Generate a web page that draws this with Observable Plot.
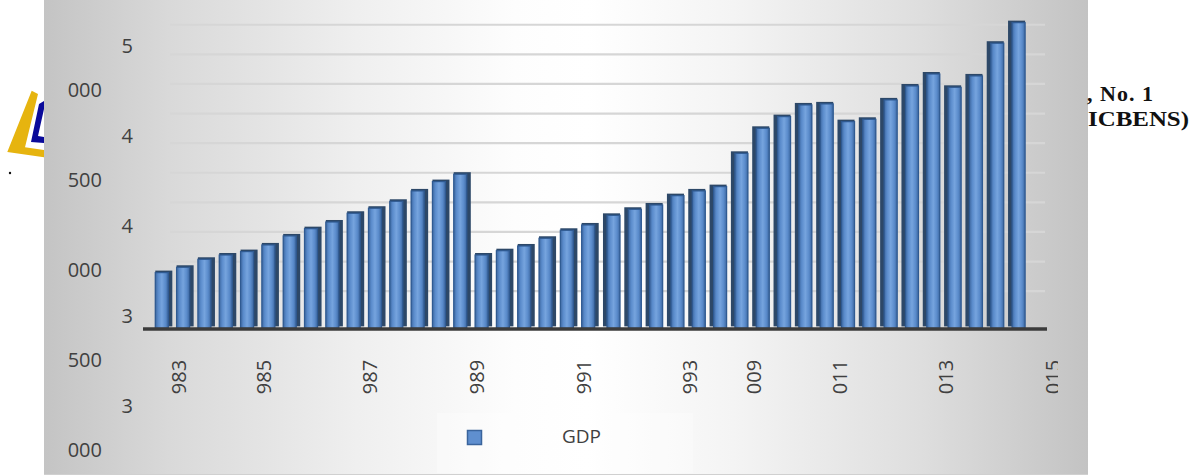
<!DOCTYPE html>
<html>
<head>
<meta charset="utf-8">
<script src="https://cdn.jsdelivr.net/npm/d3@7"></script>
<script src="https://cdn.jsdelivr.net/npm/@observablehq/plot@0.6"></script>
<style>
  html, body { margin: 0; padding: 0; background: #ffffff; }
  #wrap { position: relative; width: 1194px; height: 476px; overflow: hidden; }
  #under { position: absolute; left: 0; top: 0; z-index: 0; }
  #panel { position: absolute; left: 44px; top: 0; width: 1044px; height: 474px; z-index: 1;
    background: linear-gradient(to right, #c4c4c4 0%, #d9d9d9 12%, #efefef 30%, #fdfdfd 45%, #ffffff 52%, #f4f4f4 66%, #dedede 84%, #c3c3c3 100%);
    border-bottom: 1px solid #d0d0d0; }
  #chart { position: absolute; left: 0; top: 0; z-index: 2; }
  #chart svg { clip-path: inset(0 136px 0 0); }
  #over { position: absolute; left: 0; top: 0; z-index: 3; }
</style>
</head>
<body>
<div id="wrap">
  <svg id="under" width="1194" height="476">
    <polygon points="31.7,90.7 38,94 25,147.3 44,150 44,157.3 7.3,152" fill="#e6b40f"/>
    <polygon points="39,104 44,101 44,109 38,136 44,137 44,143 31,142" fill="#0a0a9a"/>
    <circle cx="10" cy="173" r="1.2" fill="#111"/>
    <defs>
      <linearGradient id="frontGrad" x1="0" x2="1" y1="0" y2="0">
        <stop offset="0%" stop-color="#3d679f"/>
        <stop offset="22%" stop-color="#5a8bcb"/>
        <stop offset="50%" stop-color="#76a4de"/>
        <stop offset="78%" stop-color="#5a8bcb"/>
        <stop offset="100%" stop-color="#3d679f"/>
      </linearGradient>
    </defs>
  </svg>
  <div id="panel"></div>
  <div id="chart"></div>
  <svg id="over" width="1194" height="476">
    <text x="1087" y="101" font-family="Liberation Serif, serif" font-weight="bold" font-size="22" fill="#111" textLength="66" lengthAdjust="spacing">, No. 1</text>
    <text x="1088" y="125.5" font-family="Liberation Serif, serif" font-weight="bold" font-size="22" fill="#111" textLength="101" lengthAdjust="spacingAndGlyphs">ICBENS)</text>
  </svg>
</div>
<script>
// ---- data ----
const slots = [1,2,3,4,5,6,7,8,9,10,11,12,13,14,15,16,17,18,19,20,21,22,23,24,25,26,27,28,29,30,31,32,33,34,35,36,37,38,39,40,41,42,43];
const gdp = [3322,3358,3412,3441,3464,3509,3570,3619,3664,3723,3757,3804,3874,3937,3987,
             3441,3470,3502,3554,3608,3644,3709,3750,3779,3842,3874,3903,
             4128,4297,4376,4455,4462,4342,4358,4489,4583,4664,4574,4651,4872,5011];
const tickSlots = [2,6,11,16,21,26,29,33,38,43];
const tickLabels = ["983","985","987","989","991","993","009","011","013","015"];
const gridValues = [3200,3400,3600,3800,4000,4200,4400,4600,4800,5000];
const yLabelHead = ["5","4","4","3","3"];
const yLabelTail = ["000","500","000","500","000"];
const legendLabel = "GDP";

// ---- build ----
const FLOOR = 2945;
const data = gdp.map((v, i) => ({slot: slots[i], value: v}));
const leftBars = data.filter(d => d.slot <= 21);
const rightBars = data.filter(d => d.slot > 21);
const ticks = tickSlots.map((s, i) => ({slot: s, label: tickLabels[i]}));

const chart = Plot.plot({
  width: 1194,
  height: 476,
  marginLeft: 151,
  marginRight: 122,
  marginTop: 0,
  marginBottom: 147.6,
  style: {background: "transparent", fontFamily: "'Open Sans', sans-serif", fontSize: "20px", color: "#404040", overflow: "visible"},
  x: {type: "band", domain: slots, padding: 0.2, round: false, axis: null},
  y: {domain: [FLOOR, 5164], axis: null},
  marks: [
    Plot.ruleY(gridValues, {stroke: "#d6d6d6", strokeWidth: 2.2, insetLeft: 19, insetRight: 27}),
    Plot.barY(data, {x: "slot", y1: () => FLOOR, y2: "value", fill: "#2d4868", dy: -2}),
    Plot.barY(leftBars, {x: "slot", y1: () => FLOOR, y2: "value", fill: "url(#frontGrad)", stroke: "#2f5a92", strokeWidth: 1.2, insetRight: 4}),
    Plot.barY(rightBars, {x: "slot", y1: () => FLOOR, y2: "value", fill: "url(#frontGrad)", stroke: "#2f5a92", strokeWidth: 1.2, insetLeft: 4}),
    Plot.ruleY([FLOOR], {stroke: "#3b3b3b", strokeWidth: 3.5, insetLeft: -8, insetRight: 25}),
    Plot.text(ticks, {x: "slot", text: "label", frameAnchor: "bottom", rotate: -90, textAnchor: "end", dy: 31, fontSize: 20, fill: "#404040"})
  ]
});
document.getElementById("chart").appendChild(chart);

// ---- decorative text: y labels and legend ----
const over = d3.select("#over");
const font = "'Open Sans', sans-serif";
yLabelHead.forEach((t, k) => {
  over.append("text").attr("x", 133).attr("y", 53 + 90 * k).attr("text-anchor", "end")
    .attr("font-family", font).attr("font-size", 20).attr("fill", "#404040").text(t);
  over.append("text").attr("x", 102).attr("y", 97 + 90 * k).attr("text-anchor", "end")
    .attr("font-family", font).attr("font-size", 20).attr("fill", "#404040").text(yLabelTail[k]);
});
over.append("rect").attr("x", 437).attr("y", 413).attr("width", 256).attr("height", 60)
  .attr("fill", "#ffffff").attr("fill-opacity", 0.3);
over.append("rect").attr("x", 467.5).attr("y", 430.5).attr("width", 14).attr("height", 14)
  .attr("fill", "#5f8fcf").attr("stroke", "#3a649c").attr("stroke-width", 1.5);
over.append("text").attr("x", 562).attr("y", 443).attr("font-family", font)
  .attr("font-size", 19).attr("fill", "#404040").text(legendLabel);
</script>
</body>
</html>
